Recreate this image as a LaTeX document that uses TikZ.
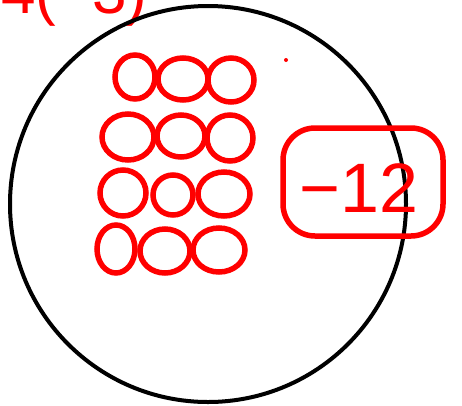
\documentclass[tikz,border=0pt]{standalone}
\usepackage{fontspec}
\setmainfont{Liberation Sans}
\usetikzlibrary{shapes.geometric}
\definecolor{inkred}{RGB}{255,0,0}
\begin{document}
\begin{tikzpicture}[x=1pt,y=-1pt,
  bead/.style={ellipse,draw=inkred,line width=5.5pt,inner sep=0pt},
  big/.style={draw=black,line width=4pt},
  redbox/.style={draw=inkred,line width=5.5pt,rounded corners=32pt}]
\useasboundingbox (0,0) rectangle (462,405);
\clip (0,0) rectangle (462,405);
\fill[white] (0,0) rectangle (462,405);
% top expression (cut off at the top edge, as in the reference)
\node[text=inkred,font=\fontsize{62}{62}\selectfont,anchor=base west,inner sep=0pt] (expr) at (1,13) {4(−3)};
% big circle
\node[big,circle,minimum size=396pt,inner sep=0pt] (ring) at (208,204) {};
% beads
\foreach \n/\x/\y/\w/\h in {a/135/77/40/44, b/183/79/50/42, c/231/80/46/44,
  d/128/137/52/46, e/181/136/48/42, f/230/138/46/46,
  g/123/193/46/46, h/173/195/40/40, i/224/194/52/44,
  j/116/249/38/48, k/165/251/50/44, l/219/250/52/44}
  \node[bead,minimum width=\w pt,minimum height=\h pt] (\n) at (\x,\y) {};
% dot
\fill[inkred] (286,60) circle (2pt);
% result box
\node[redbox,minimum width=160pt,minimum height=108pt] (box) at (363,182) {};
\node[text=inkred,font=\fontsize{70}{70}\selectfont,inner sep=0pt] (res) at (359,188) {−12};
\end{tikzpicture}
\end{document}
